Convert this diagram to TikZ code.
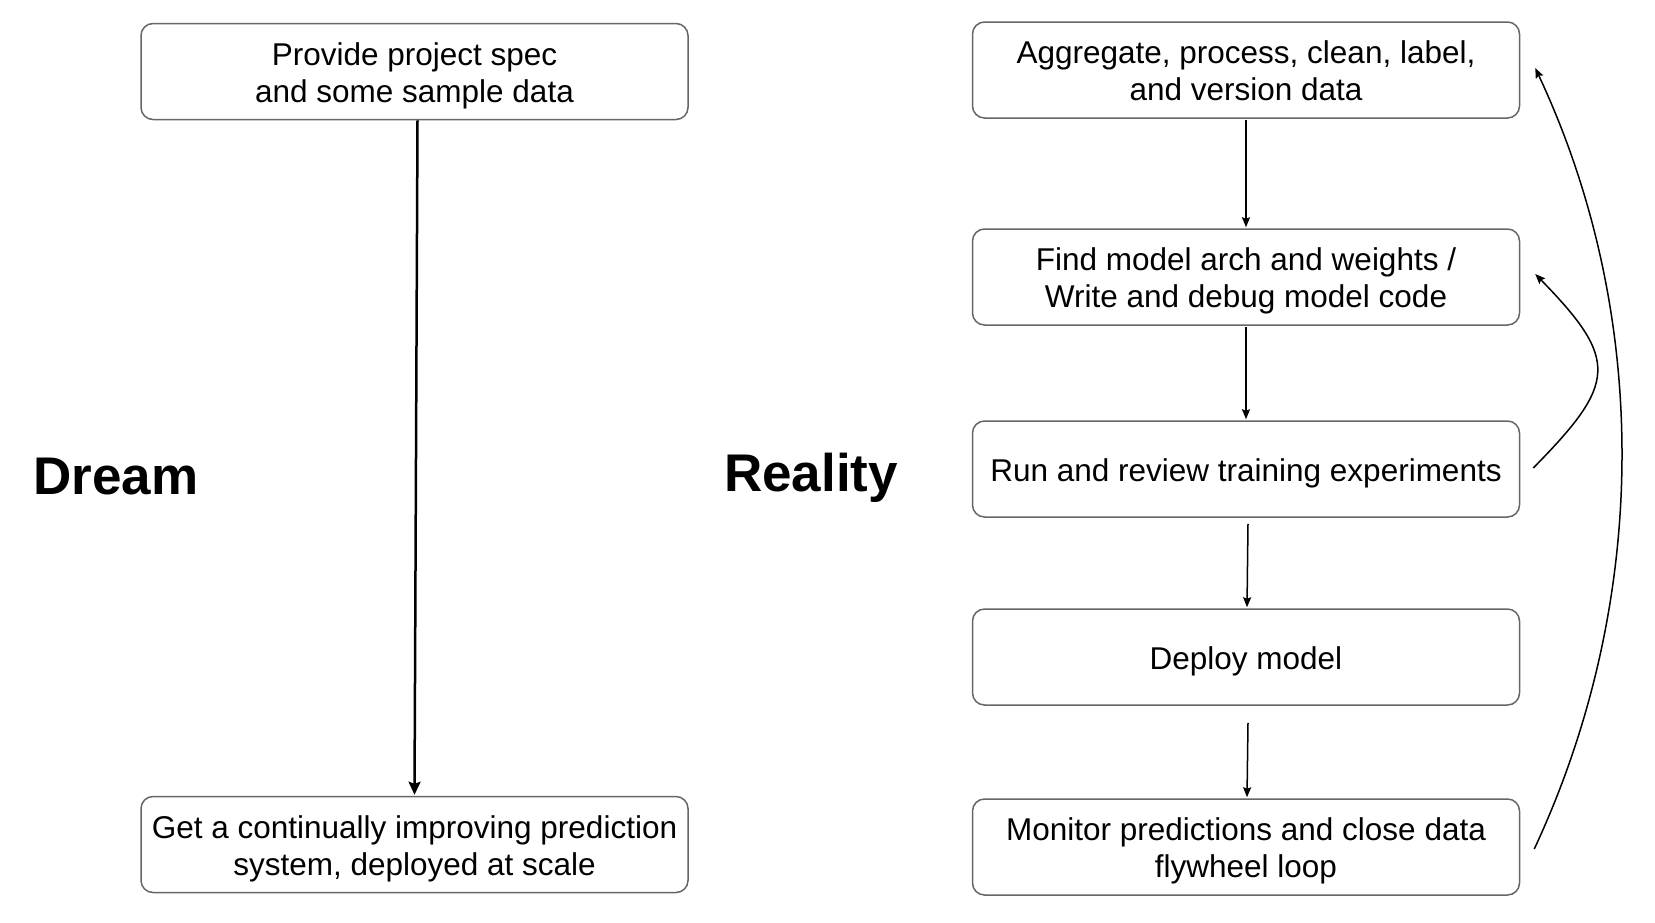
\documentclass[tikz,border=0pt]{standalone}
\usepackage{fontspec}
\setmainfont{Liberation Sans}
\usetikzlibrary{arrows.meta}
\definecolor{boxgray}{HTML}{666666}
\newcommand{\topstrut}{\rule{0pt}{32pt}}
\begin{document}
\begin{tikzpicture}[x=1pt,y=-1pt,
  box/.style={draw=boxgray, line width=1.5pt, rounded corners=12pt, minimum width=547pt, minimum height=96pt, inner sep=0pt, align=center, font=\fontsize{31.5}{37}\selectfont, text=black,
    execute at end node={\rule[-8pt]{0pt}{0pt}}},
  bigtitle/.style={font=\fontsize{53}{60}\selectfont\bfseries, inner sep=0pt},
  thickarrow/.style={line width=2.5pt, -{Stealth[length=13pt,width=12pt,inset=2pt]}},
  thinarrow/.style={line width=1.5pt, -{Stealth[length=10pt,width=8pt,inset=1.5pt]}}
]
\useasboundingbox (0,0) rectangle (1655,922);
\fill[white] (0,0) rectangle (1655,922);

% Dream column
\node[box] (l1) at (414.5,71.5) {\topstrut Provide project spec\\and some sample data};
\node[box] (l2) at (414.5,844.5) {\topstrut Get a continually improving prediction\\system, deployed at scale};
\node[bigtitle] (dream) at (116,477) {Dream};
\draw[thickarrow] ([xshift=3pt]l1.south) -- ([yshift=1pt]l2.north);

% Reality column
\node[bigtitle] (reality) at (811,478) {Reality};
\node[box] (a) at (1246,70) {\topstrut Aggregate, process, clean, label,\\and version data};
\node[box] (b) at (1246,277) {\topstrut Find model arch and weights /\\Write and debug model code};
\node[box] (c) at (1246,469) {\topstrut Run and review training experiments};
\node[box] (d) at (1246,657) {\topstrut Deploy model};
\node[box] (e) at (1246,847) {\topstrut Monitor predictions and close data\\flywheel loop};

\draw[thinarrow] ([yshift=-1pt]a.south) -- ([yshift=1pt]b.north);
\draw[thinarrow] ([yshift=-1pt]b.south) -- ([yshift=1pt]c.north);
\draw[thinarrow] ([xshift=2pt,yshift=-6pt]c.south) -- ([xshift=1pt,yshift=1pt]d.north);
\draw[thinarrow] ([xshift=2pt,yshift=-17pt]d.south) -- ([xshift=1pt,yshift=1pt]e.north);

\coordinate (cs) at ([xshift=13pt,yshift=1pt]c.east);
\coordinate (bt) at ([xshift=15pt,yshift=3pt]b.east);
\draw[thinarrow] (cs) .. controls (1617,383) and (1619,360) .. (bt);

\coordinate (es) at ([xshift=14pt,yshift=-2pt]e.east);
\coordinate (at) at ([xshift=15pt,yshift=2pt]a.east);
\draw[thinarrow] (es) .. controls (1650,601) and (1651,315) .. (at);
\end{tikzpicture}
\end{document}
